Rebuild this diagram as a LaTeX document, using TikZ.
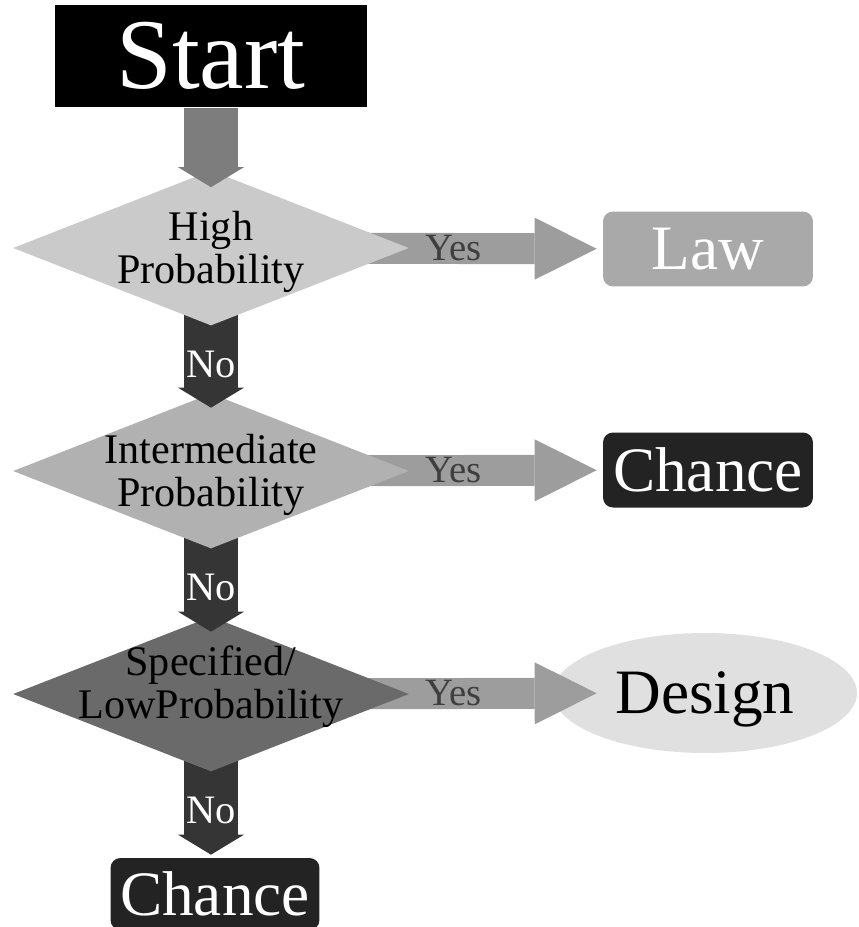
\documentclass[tikz,border=0pt]{standalone}
\usepackage{fontspec}
\setmainfont{Liberation Serif}
\usepackage{xcolor}
\usepackage{tikz}
\usetikzlibrary{shapes.geometric,arrows.meta}

\definecolor{startarr}{HTML}{7D7D7D}
\definecolor{highfill}{HTML}{CACACA}
\definecolor{midfill}{HTML}{B1B1B1}
\definecolor{lowfill}{HTML}{6A6A6A}
\definecolor{yescol}{HTML}{9D9D9D}
\definecolor{nocol}{HTML}{353535}
\definecolor{lawfill}{HTML}{A9A9A9}
\definecolor{chancefill}{HTML}{232323}
\definecolor{designfill}{HTML}{E0E0E0}
\definecolor{yestext}{HTML}{3F3F3F}

\pgfdeclarelayer{bg}
\pgfdeclarelayer{low}
\pgfdeclarelayer{mid}
\pgfsetlayers{bg,low,mid,main}

\begin{document}
\begin{tikzpicture}[x=0.02cm,y=-0.02cm,
		startbox/.style={fill=black,text=white,minimum width=6.26cm,minimum height=2.06cm,font=\fontsize{57}{60}\selectfont},
		decision/.style={diamond,minimum width=7.92cm,minimum height=3.1cm,inner sep=0pt},
		dtext/.style={align=center,text=black,font=\fontsize{24}{24.5}\selectfont},
		endbox/.style={rounded corners=0.2cm,fill=chancefill,text=white,minimum width=4.2cm,minimum height=1.5cm,text depth=0pt,font=\fontsize{36}{40}\selectfont},
		yesarrow/.style={draw=yescol,line width=0.62cm,-{Triangle[width=1.24cm,length=1.24cm,line width=0pt]}},
		noarrow/.style={draw=nocol,line width=1.1cm,-{Triangle[width=1.32cm,length=0.4cm,line width=0pt]}},
		ylabel/.style={text=yestext,font=\fontsize{22}{24}\selectfont},
		nlabel/.style={text=white,font=\fontsize{23}{24}\selectfont}]
				\useasboundingbox (0,0) rectangle (859,927);
				\node[startbox] (start) at (211,56) {Start};
				\node[decision,fill=highfill] (high) at (211,248) {};
				\node[dtext] (hightxt) at ([yshift=-0.07cm]high.center) {High\\Probability};
				\draw[noarrow,draw=startarr,shorten >=-0.34cm] (start) -- (high);
				\begin{pgfonlayer}{mid}
				\node[decision,fill=midfill] (inter) at (211,471) {};
				\node[dtext] (intertxt) at ([yshift=-0.07cm]inter.center) {Intermediate\\Probability};
				\node[endbox,fill=lawfill] (law) at (708,249) {Law};
				\draw[yesarrow,shorten >=0.12cm] (high.center) -- (law) node[ylabel,pos=0.62] (yes1) {Yes};
				\draw[noarrow,shorten >=-0.29cm] (high.center) -- (inter) node[nlabel,pos=0.8] (no1) {No};
				\end{pgfonlayer}
				\begin{pgfonlayer}{low}
				\node[decision,fill=lowfill] (spec) at (211,694) {};
				\node[dtext] (spectxt) at ([yshift=0.15cm]spec.center) {Specified/\\LowProbability};
				\node[endbox] (chance1) at (708,470) {Chance};
				\draw[yesarrow,shorten >=0.12cm] (inter.center) -- (chance1) node[ylabel,pos=0.62] (yes2) {Yes};
				\draw[noarrow,shorten >=-0.31cm] (inter.center) -- (spec) node[nlabel,pos=0.8] (no2) {No};
				\end{pgfonlayer}
				\begin{pgfonlayer}{bg}
				\node[ellipse,fill=designfill,minimum width=6.08cm,minimum height=2.4cm,inner sep=0pt,text depth=0pt,font=\fontsize{36}{40}\selectfont] (design) at (705,693) {Design};
				\node[endbox,minimum width=4.18cm,minimum height=1.44cm] (chance2) at (215,894) {Chance};
				\draw[yesarrow,shorten >=-0.88cm] (spec.center) -- (design) node[ylabel,pos=0.71] (yes3) {Yes};
				\draw[noarrow,shorten >=0.06cm] (spec.center) -- (spec.center |- chance2.north) node[nlabel,pos=0.71] (no3) {No};
				\end{pgfonlayer}
			\end{tikzpicture}
\end{document}
